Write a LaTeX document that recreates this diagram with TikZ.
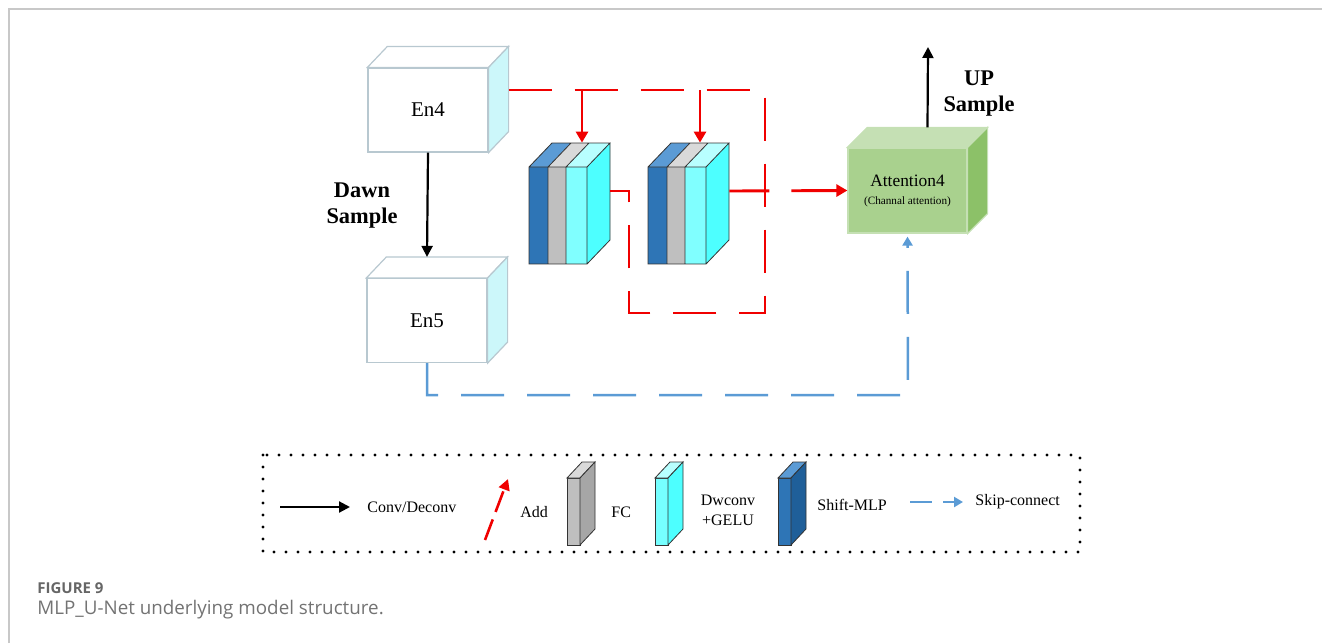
\documentclass[tikz,border=0pt]{standalone}
\usepackage{fontspec}
\setmainfont{Liberation Serif}
\newfontfamily\capfont{Open Sans}
\usetikzlibrary{arrows.meta,calc}
\definecolor{myred}{HTML}{F00000}
\definecolor{myblue}{HTML}{5B9BD5}
\definecolor{dkblue}{HTML}{2E75B6}
\definecolor{dkbluetop}{HTML}{5B9BD5}
\definecolor{dkblueside}{HTML}{1F5F99}
\definecolor{fcgray}{HTML}{BFBFBF}
\definecolor{graytop}{HTML}{D9D9D9}
\definecolor{grayside}{HTML}{A6A6A6}
\definecolor{ltcyan}{HTML}{80FFFF}
\definecolor{cyantop}{HTML}{B8FFFF}
\definecolor{sidecyan}{HTML}{4DFFFF}
\definecolor{enedge}{HTML}{B8C8D0}
\definecolor{enside}{HTML}{CCF7FA}
\definecolor{gfront}{HTML}{A9D18E}
\definecolor{gtop}{HTML}{C5E0B4}
\definecolor{gside}{HTML}{8CC168}
\definecolor{framec}{HTML}{C8C8C8}

\newcommand{\cubefaces}[6]{%
  \filldraw[fill=#4, draw=#6, line width=0.6pt] (#1.north west) -- ++(#2,#3) -- ($(#1.north east)+(#2,#3)$) -- (#1.north east) -- cycle;
  \filldraw[fill=#5, draw=#6, line width=0.6pt] (#1.north east) -- ++(#2,#3) -- ($(#1.south east)+(#2,#3)$) -- (#1.south east) -- cycle;
}
\newcommand{\mlpblock}[2]{%
\begin{scope}[shift={#2}]
  \fill[dkblue] (0,0) rectangle (19,97);
  \fill[fcgray] (19,0) rectangle (37,97);
  \fill[ltcyan] (37,0) rectangle (58,97);
  \fill[dkbluetop] (0,0) -- (23,-24) -- (42,-24) -- (19,0) -- cycle;
  \fill[graytop] (19,0) -- (42,-24) -- (60,-24) -- (37,0) -- cycle;
  \fill[cyantop] (37,0) -- (60,-24) -- (81,-24) -- (58,0) -- cycle;
  \fill[sidecyan] (58,0) -- (81,-24) -- (81,73) -- (58,97) -- cycle;
  \draw[blkline] (0,0) rectangle (58,97) (19,0) -- (19,97) (37,0) -- (37,97)
     (0,0) -- (23,-24) -- (81,-24) -- (58,0) (19,0) -- (42,-24) (37,0) -- (60,-24)
     (81,-24) -- (81,73) -- (58,97);
  \node[blk] (#1) at (29,48.5) {};
\end{scope}}
\newcommand{\slab}[5]{%
\begin{scope}[shift={#2}]
  \filldraw[fill=#3, blkline] (0,0) rectangle (13,67);
  \filldraw[fill=#5, blkline] (0,0) -- (15,-16) -- (28,-16) -- (13,0) -- cycle;
  \filldraw[fill=#4, blkline] (13,0) -- (28,-16) -- (28,51) -- (13,67) -- cycle;
  \node[inner sep=0pt, minimum width=6.5pt, minimum height=33.5pt] (#1) at (6.5,33.5) {};
\end{scope}}

\begin{document}
\begin{tikzpicture}[x=0.5pt, y=-0.5pt, line join=miter,
  enbox/.style={draw=enedge, fill=white, line width=0.6pt, minimum width=60pt, minimum height=42pt, inner sep=0pt, font=\fontsize{10.5}{12}\selectfont},
  attbox/.style={fill=gfront, draw=gtop, line width=0.6pt, minimum width=59.5pt, minimum height=42.5pt, inner sep=0pt, align=center, font=\fontsize{8.7}{9}\selectfont},
  blk/.style={minimum width=29pt, minimum height=48.5pt, inner sep=0pt},
  blkline/.style={draw=black!80, line width=0.4pt},
  redline/.style={draw=myred, line width=1.45pt},
  reddash/.style={redline, dash pattern=on 21.5pt off 11.5pt},
  redarrow/.style={redline, -{Triangle[length=5.5pt,width=6pt]}},
  bluedash/.style={draw=myblue, line width=1.25pt, dash pattern=on 21.5pt off 11.5pt},
  blackarrow/.style={draw=black, line width=1.1pt, -{Triangle[length=5.5pt,width=5.5pt]}},
  boldlabel/.style={font=\bfseries\fontsize{11.2}{13}\selectfont, align=center},
  legtext/.style={font=\fontsize{8}{10}\selectfont, anchor=west, inner sep=0pt},
  legframe/.style={line width=1.6pt, dash pattern=on 0pt off 6pt, line cap=round}
]
\useasboundingbox (0,0) rectangle (1322,643);
% frame
\draw[draw=framec, line width=0.75pt] (9,643) -- (9,9) -- (1322,9);

% encoder boxes
\node[enbox] (en4) at (428,110) {En4};
\cubefaces{en4}{20}{-21}{white}{enside}{enedge}
\node[enbox] (en5) at (427,320.5) {En5};
\cubefaces{en5}{20}{-21}{white}{enside}{enedge}

% attention box
\node[attbox] (att) at (907.5,190.5) {Attention4\\{\fontsize{5.6}{7}\selectfont (Channal attention)}};
\cubefaces{att}{20}{-20}{gtop}{gside}{gtop}

% MLP blocks
\mlpblock{b1}{(529,167)}
\mlpblock{b2}{(648,167)}

% coordinates
\coordinate (en4out) at ($(en4.east)+(20,-20)$);
\coordinate (b1out) at ($(b1.east)+(23,-24.5)$);
\coordinate (b2out) at ($(b2.east)+(23,-24.5)$);
\coordinate (c1) at (765,90);
\coordinate (c2) at (765,313);
\coordinate (c3) at (629,313);
\coordinate (c4) at (629,191);
\coordinate (t1) at (582,90);
\coordinate (t2) at (700,90);
\coordinate (skipc) at (908,395);
\coordinate (upend) at (928,47);

% red connections
\draw[reddash] (en4out) -- (c1) -- (c2) -- (c3) -- (c4) -- (b1out);
\draw[redarrow] (t1) -- ($(b1.north)+(24,-24)$);
\draw[redarrow] (t2) -- ($(b2.north)+(23,-24)$);
\draw[redarrow, dash pattern=on 20pt off 11pt on 40pt] (b2out) -- (att.west);

% black arrows
\draw[blackarrow] (en4.south) -- ($(en5.north)+(0,-21)$);
\draw[blackarrow] ($(att.north)+(20,-20)$) -- (upend);
\node[boldlabel] (dawn) at (362,206) {Dawn\\Sample};
\node[boldlabel] (up) at (979,94) {UP\\Sample};

% skip connection
\draw[bluedash, -{Triangle[length=4.5pt,width=5pt]}] (en5.south) |- (skipc) -- ($(att.south)+(0,3)$);

% legend
\draw[legframe] (263,455) rectangle (1080,552);
\coordinate (la1) at (280,507);
\coordinate (la2) at (350,507);
\draw[blackarrow] (la1) -- (la2);
\node[legtext] (lconv) at (367,507) {Conv/Deconv};
\coordinate (ad1) at (485,540);
\coordinate (ad2) at (508,479);
\draw[redline, line width=1.3pt, dash pattern=on 11pt off 4pt, -{Triangle[length=5.5pt,width=5.5pt]}] (ad1) -- (ad2);
\node[legtext] (ladd) at (520,512) {Add};
\slab{lfc}{(567,478)}{fcgray}{grayside}{graytop}
\node[legtext] (lfct) at (611,512) {FC};
\slab{ldw}{(655,478)}{ltcyan!80!sidecyan}{sidecyan}{cyantop}
\node[legtext, anchor=center, align=center, font=\fontsize{8}{10}\selectfont] (ldwt) at (728,510) {Dwconv\\+GELU};
\slab{lsm}{(778,478)}{dkblue}{dkblueside}{dkbluetop}
\node[legtext] (lsmt) at (817,505) {Shift-MLP};
\coordinate (sk1) at (910,502);
\coordinate (sk2) at (963,502);
\draw[draw=myblue, line width=1.25pt, dash pattern=on 11pt off 5.5pt, -{Triangle[length=4.5pt,width=5pt]}] (sk1) -- (sk2);
\node[legtext] (lskip) at (975,502) {Skip-connect};

% caption
\node[anchor=west, inner sep=0pt, font=\capfont\bfseries\fontsize{7.5}{9}\selectfont, text=black!60] (fig) at (37,588.5) {FIGURE 9};
\node[anchor=west, inner sep=0pt, font=\capfont\fontsize{9.4}{12}\selectfont, text=black!55] (cap) at (37,610) {MLP\_U-Net underlying model structure.};
\end{tikzpicture}
\end{document}
